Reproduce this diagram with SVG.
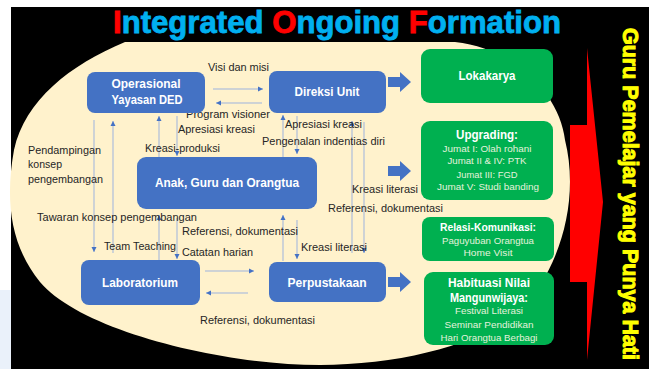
<svg xmlns="http://www.w3.org/2000/svg" width="649" height="369" viewBox="0 0 649 369">
<style>
.lbl{font-family:"Liberation Sans",Arial,sans-serif;font-size:11px;fill:#262626;}
.nt{font-family:"Liberation Sans",Arial,sans-serif;font-size:12px;font-weight:bold;fill:#FFFFFF;text-anchor:middle;}
.gt{font-family:"Liberation Sans",Arial,sans-serif;font-size:12px;font-weight:bold;fill:#FFFFFF;text-anchor:middle;}
.gs{font-family:"Liberation Sans",Arial,sans-serif;font-size:9.5px;fill:#E4F2DC;text-anchor:middle;}
.bn{fill:#4472C4;}
.gn{fill:#00B050;}
.cn{stroke:#9DB3DE;stroke-width:1;fill:none;marker-end:url(#ah);}
.ba{fill:#4472C4;}
</style>
<defs>
<marker id="ah" markerUnits="userSpaceOnUse" markerWidth="6" markerHeight="6" refX="5" refY="3" orient="auto">
<path d="M0,0.5 L5,3 L0,5.5 Z" fill="#4472C4"/>
</marker>
</defs>
<rect x="0" y="0" width="649" height="369" fill="#FFFFFF"/>
<rect x="0" y="290" width="11" height="79" fill="#EAF1FA"/>
<rect x="11" y="7" width="638" height="362" fill="#000000"/>
<path id="bg-ellipse" d="M125,42 L455,42 C515,48 560,95 565,140 C580,200 560,270 520,310 C480,345 400,365 320,365 C220,365 80,330 40,282 C10,245 5,200 14,150 C25,100 70,65 125,42 Z" fill="#FFF2CC"/>
<text x="113" y="33" textLength="448" lengthAdjust="spacingAndGlyphs" font-family="'Liberation Sans',Arial,sans-serif" font-size="31" font-weight="bold" fill="#00B0F0" stroke="#00B0F0" stroke-width="0.8"><tspan fill="#FF0000" stroke="#FF0000">I</tspan>ntegrated <tspan fill="#FF0000" stroke="#FF0000">O</tspan>ngoing <tspan fill="#FF0000" stroke="#FF0000">F</tspan>ormation</text>
<polygon id="red-arrow" points="570,125 587,125 587,48 603,202 587,360 587,282 570,282" fill="#FF0000"/>
<text x="630" y="28" writing-mode="vertical-rl" textLength="332" lengthAdjust="spacingAndGlyphs" font-family="'Liberation Sans',Arial,sans-serif" font-size="21.5" font-weight="bold" fill="#FFFF00" stroke="#FFFF00" stroke-width="1">Guru Pemelajar yang Punya Hati</text>
<g id="connectors">
<line class="cn" x1="213" y1="89" x2="263" y2="89"/>
<line class="cn" x1="262" y1="103" x2="216" y2="103"/>
<line class="cn" x1="205" y1="271" x2="254" y2="271"/>
<line class="cn" x1="248" y1="293" x2="206" y2="293"/>
<line class="cn" x1="94" y1="120" x2="94" y2="252"/>
<line class="cn" x1="113" y1="253" x2="113" y2="121"/>
<line class="cn" x1="159" y1="157" x2="159" y2="116"/>
<line class="cn" x1="159" y1="260" x2="159" y2="215"/>
<line class="cn" x1="177" y1="116" x2="177" y2="156"/>
<line class="cn" x1="177" y1="218" x2="177" y2="259"/>
<line class="cn" x1="283" y1="157" x2="283" y2="115"/>
<line class="cn" x1="283" y1="261" x2="283" y2="215"/>
<line class="cn" x1="297" y1="116" x2="297" y2="154"/>
<line class="cn" x1="297" y1="220" x2="297" y2="259"/>
<line class="cn" x1="352" y1="253" x2="352" y2="121"/>
<line class="cn" x1="364" y1="122" x2="364" y2="253"/>
<polygon class="ba" points="388,77 400,77 400,72 411,82 400,92 400,87 388,87"/>
<polygon class="ba" points="388,166 400,166 400,161 411,171 400,181 400,176 388,176"/>
<polygon class="ba" points="388,277 400,277 400,272 411,282 400,292 400,287 388,287"/>
</g>
<g id="labels">
<text class="lbl" x="208" y="71" textLength="61" lengthAdjust="spacingAndGlyphs">Visi dan misi</text>
<text class="lbl" x="186" y="118" textLength="84" lengthAdjust="spacingAndGlyphs">Program visioner</text>
<text class="lbl" x="178" y="133" textLength="77" lengthAdjust="spacingAndGlyphs">Apresiasi kreasi</text>
<text class="lbl" x="145" y="152" textLength="75" lengthAdjust="spacingAndGlyphs">Kreasi-produksi</text>
<text class="lbl" x="285" y="128" textLength="77" lengthAdjust="spacingAndGlyphs">Apresiasi kreasi</text>
<text class="lbl" x="262" y="145" textLength="123" lengthAdjust="spacingAndGlyphs">Pengenalan indentias diri</text>
<text class="lbl" x="28" y="154" textLength="73" lengthAdjust="spacingAndGlyphs">Pendampingan</text>
<text class="lbl" x="28" y="168" textLength="34" lengthAdjust="spacingAndGlyphs">konsep</text>
<text class="lbl" x="28" y="183" textLength="75" lengthAdjust="spacingAndGlyphs">pengembangan</text>
<text class="lbl" x="37" y="221" textLength="160" lengthAdjust="spacingAndGlyphs">Tawaran konsep pengembangan</text>
<text class="lbl" x="182" y="235" textLength="116" lengthAdjust="spacingAndGlyphs">Referensi, dokumentasi</text>
<text class="lbl" x="104" y="250" textLength="72" lengthAdjust="spacingAndGlyphs">Team Teaching</text>
<text class="lbl" x="182" y="256" textLength="71" lengthAdjust="spacingAndGlyphs">Catatan harian</text>
<text class="lbl" x="301" y="251" textLength="66" lengthAdjust="spacingAndGlyphs">Kreasi literasi</text>
<text class="lbl" x="352" y="193" textLength="66" lengthAdjust="spacingAndGlyphs">Kreasi literasi</text>
<text class="lbl" x="328" y="212" textLength="115" lengthAdjust="spacingAndGlyphs">Referensi, dokumentasi</text>
<text class="lbl" x="200" y="324" textLength="115" lengthAdjust="spacingAndGlyphs">Referensi, dokumentasi</text>
</g>
<g id="node-operasional">
<rect class="bn" x="87" y="72" width="118" height="41" rx="8"/>
<text class="nt" x="146" y="88" textLength="69" lengthAdjust="spacingAndGlyphs">Operasional</text>
<text class="nt" x="147" y="104" textLength="71" lengthAdjust="spacingAndGlyphs">Yayasan DED</text>
</g>
<g id="node-direksi">
<rect class="bn" x="269" y="71" width="117" height="42" rx="8"/>
<text class="nt" x="327" y="96" textLength="65" lengthAdjust="spacingAndGlyphs">Direksi Unit</text>
</g>
<g id="node-anak">
<rect class="bn" x="137" y="157" width="180" height="52" rx="9"/>
<text class="nt" x="227" y="187" textLength="144" lengthAdjust="spacingAndGlyphs">Anak, Guru dan Orangtua</text>
</g>
<g id="node-lab">
<rect class="bn" x="81" y="260" width="119" height="45" rx="8"/>
<text class="nt" x="140" y="287" textLength="76" lengthAdjust="spacingAndGlyphs">Laboratorium</text>
</g>
<g id="node-perpus">
<rect class="bn" x="269" y="262" width="117" height="40" rx="8"/>
<text class="nt" x="327" y="287" textLength="79" lengthAdjust="spacingAndGlyphs">Perpustakaan</text>
</g>
<g id="node-lokakarya">
<rect class="gn" x="421" y="49" width="132" height="54" rx="9"/>
<text class="gt" x="487" y="80" textLength="57" lengthAdjust="spacingAndGlyphs">Lokakarya</text>
</g>
<g id="node-upgrading">
<rect class="gn" x="421" y="121" width="132" height="79" rx="9"/>
<text class="gt" x="487" y="139" textLength="62" lengthAdjust="spacingAndGlyphs">Upgrading:</text>
<text class="gs" x="487" y="152" textLength="89" lengthAdjust="spacingAndGlyphs">Jumat I: Olah rohani</text>
<text class="gs" x="487" y="164" textLength="79" lengthAdjust="spacingAndGlyphs">Jumat II &amp; IV: PTK</text>
<text class="gs" x="487" y="178" textLength="61" lengthAdjust="spacingAndGlyphs">Jumat III: FGD</text>
<text class="gs" x="488" y="190" textLength="102" lengthAdjust="spacingAndGlyphs">Jumat V: Studi banding</text>
</g>
<g id="node-relasi">
<rect class="gn" x="422" y="217" width="132" height="44" rx="8"/>
<text class="gt" x="488" y="231" textLength="96" lengthAdjust="spacingAndGlyphs" style="font-size:11px">Relasi-Komunikasi:</text>
<text class="gs" x="488" y="244" textLength="92" lengthAdjust="spacingAndGlyphs">Paguyuban Orangtua</text>
<text class="gs" x="488" y="256" textLength="49" lengthAdjust="spacingAndGlyphs">Home Visit</text>
</g>
<g id="node-habituasi">
<rect class="gn" x="424" y="272" width="130" height="73" rx="9"/>
<text class="gt" x="489" y="287" textLength="82" lengthAdjust="spacingAndGlyphs" style="font-size:13px">Habituasi Nilai</text>
<text class="gt" x="489" y="302" textLength="78" lengthAdjust="spacingAndGlyphs">Mangunwijaya:</text>
<text class="gs" x="489" y="314" textLength="68" lengthAdjust="spacingAndGlyphs">Festival Literasi</text>
<text class="gs" x="489" y="328" textLength="89" lengthAdjust="spacingAndGlyphs">Seminar Pendidikan</text>
<text class="gs" x="489" y="341" textLength="97" lengthAdjust="spacingAndGlyphs">Hari Orangtua Berbagi</text>
</g>
</svg>
